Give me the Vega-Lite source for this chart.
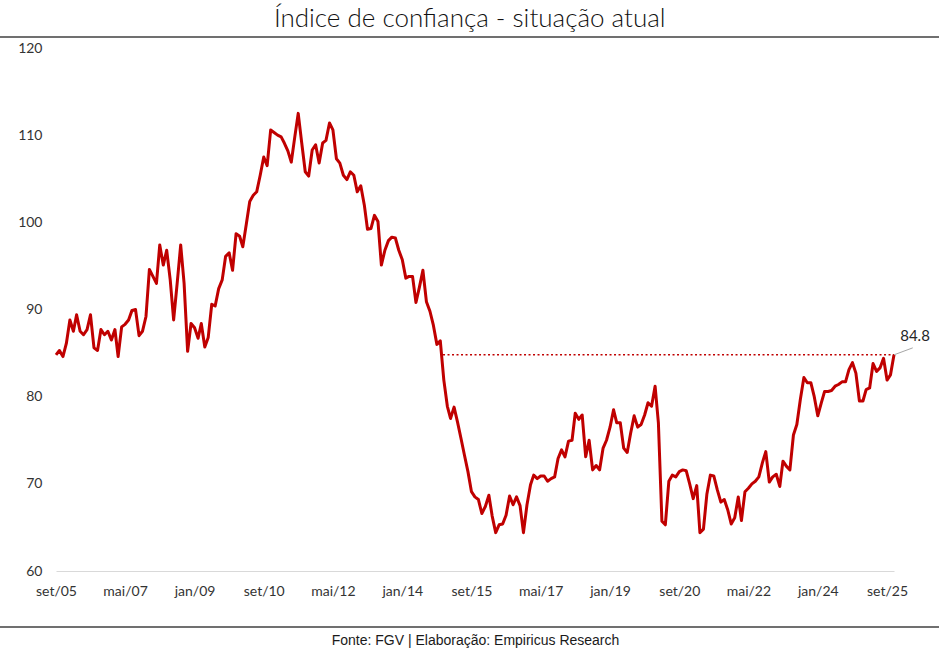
{
  "$schema": "https://vega.github.io/schema/vega-lite/v6.json",
  "width": 838,
  "height": 523,
  "autosize": {"type": "none"},
  "padding": {"left": 56, "top": 48, "right": 45, "bottom": 81},
  "background": "white",
  "title": {
    "text": "Índice de confiança - situação atual",
    "font": "Lato",
    "fontSize": 26,
    "fontWeight": 300,
    "color": "#111111",
    "anchor": "middle",
    "frame": "bounds",
    "offset": 4
  },
  "config": {
    "view": {"stroke": null},
    "axis": {"labelFont": "Lato", "labelFontSize": 14, "labelColor": "#333333", "grid": false, "ticks": false}
  },
  "data": {"values": [
    {"d": "2005-09-01", "v": 84.8}, {"d": "2005-10-01", "v": 85.3}, {"d": "2005-11-01", "v": 84.6}, {"d": "2005-12-01", "v": 86.1},
    {"d": "2006-01-01", "v": 88.8}, {"d": "2006-02-01", "v": 87.5}, {"d": "2006-03-01", "v": 89.4}, {"d": "2006-04-01", "v": 87.5}, {"d": "2006-05-01", "v": 87.1}, {"d": "2006-06-01", "v": 87.7}, {"d": "2006-07-01", "v": 89.4}, {"d": "2006-08-01", "v": 85.6}, {"d": "2006-09-01", "v": 85.3}, {"d": "2006-10-01", "v": 87.7}, {"d": "2006-11-01", "v": 87.1}, {"d": "2006-12-01", "v": 87.5},
    {"d": "2007-01-01", "v": 86.5}, {"d": "2007-02-01", "v": 87.7}, {"d": "2007-03-01", "v": 84.6}, {"d": "2007-04-01", "v": 88.0}, {"d": "2007-05-01", "v": 88.3}, {"d": "2007-06-01", "v": 88.8}, {"d": "2007-07-01", "v": 89.9}, {"d": "2007-08-01", "v": 90.0}, {"d": "2007-09-01", "v": 87.0}, {"d": "2007-10-01", "v": 87.5}, {"d": "2007-11-01", "v": 89.2}, {"d": "2007-12-01", "v": 94.6},
    {"d": "2008-01-01", "v": 93.8}, {"d": "2008-02-01", "v": 93.0}, {"d": "2008-03-01", "v": 97.4}, {"d": "2008-04-01", "v": 95.1}, {"d": "2008-05-01", "v": 96.8}, {"d": "2008-06-01", "v": 93.4}, {"d": "2008-07-01", "v": 88.8}, {"d": "2008-08-01", "v": 93.0}, {"d": "2008-09-01", "v": 97.4}, {"d": "2008-10-01", "v": 93.0}, {"d": "2008-11-01", "v": 85.2}, {"d": "2008-12-01", "v": 88.4},
    {"d": "2009-01-01", "v": 87.9}, {"d": "2009-02-01", "v": 86.7}, {"d": "2009-03-01", "v": 88.4}, {"d": "2009-04-01", "v": 85.7}, {"d": "2009-05-01", "v": 86.8}, {"d": "2009-06-01", "v": 90.6}, {"d": "2009-07-01", "v": 90.4}, {"d": "2009-08-01", "v": 92.4}, {"d": "2009-09-01", "v": 93.4}, {"d": "2009-10-01", "v": 96.1}, {"d": "2009-11-01", "v": 96.5}, {"d": "2009-12-01", "v": 94.5},
    {"d": "2010-01-01", "v": 98.7}, {"d": "2010-02-01", "v": 98.4}, {"d": "2010-03-01", "v": 97.2}, {"d": "2010-04-01", "v": 99.8}, {"d": "2010-05-01", "v": 102.4}, {"d": "2010-06-01", "v": 103.1}, {"d": "2010-07-01", "v": 103.5}, {"d": "2010-08-01", "v": 105.4}, {"d": "2010-09-01", "v": 107.5}, {"d": "2010-10-01", "v": 106.5}, {"d": "2010-11-01", "v": 110.6}, {"d": "2010-12-01", "v": 110.3},
    {"d": "2011-01-01", "v": 110.0}, {"d": "2011-02-01", "v": 109.8}, {"d": "2011-03-01", "v": 109.1}, {"d": "2011-04-01", "v": 108.2}, {"d": "2011-05-01", "v": 106.9}, {"d": "2011-06-01", "v": 109.8}, {"d": "2011-07-01", "v": 112.5}, {"d": "2011-08-01", "v": 109.1}, {"d": "2011-09-01", "v": 105.8}, {"d": "2011-10-01", "v": 105.3}, {"d": "2011-11-01", "v": 108.3}, {"d": "2011-12-01", "v": 108.9},
    {"d": "2012-01-01", "v": 106.8}, {"d": "2012-02-01", "v": 109.1}, {"d": "2012-03-01", "v": 109.4}, {"d": "2012-04-01", "v": 111.4}, {"d": "2012-05-01", "v": 110.6}, {"d": "2012-06-01", "v": 107.3}, {"d": "2012-07-01", "v": 106.8}, {"d": "2012-08-01", "v": 105.4}, {"d": "2012-09-01", "v": 104.9}, {"d": "2012-10-01", "v": 105.8}, {"d": "2012-11-01", "v": 105.4}, {"d": "2012-12-01", "v": 103.5},
    {"d": "2013-01-01", "v": 104.2}, {"d": "2013-02-01", "v": 102.0}, {"d": "2013-03-01", "v": 99.2}, {"d": "2013-04-01", "v": 99.3}, {"d": "2013-05-01", "v": 100.8}, {"d": "2013-06-01", "v": 100.1}, {"d": "2013-07-01", "v": 95.1}, {"d": "2013-08-01", "v": 96.8}, {"d": "2013-09-01", "v": 97.9}, {"d": "2013-10-01", "v": 98.3}, {"d": "2013-11-01", "v": 98.2}, {"d": "2013-12-01", "v": 96.8},
    {"d": "2014-01-01", "v": 95.7}, {"d": "2014-02-01", "v": 93.6}, {"d": "2014-03-01", "v": 93.8}, {"d": "2014-04-01", "v": 93.8}, {"d": "2014-05-01", "v": 90.8}, {"d": "2014-06-01", "v": 92.6}, {"d": "2014-07-01", "v": 94.5}, {"d": "2014-08-01", "v": 90.9}, {"d": "2014-09-01", "v": 89.8}, {"d": "2014-10-01", "v": 88.2}, {"d": "2014-11-01", "v": 86.0}, {"d": "2014-12-01", "v": 86.4},
    {"d": "2015-01-01", "v": 81.9}, {"d": "2015-02-01", "v": 78.9}, {"d": "2015-03-01", "v": 77.5}, {"d": "2015-04-01", "v": 78.8}, {"d": "2015-05-01", "v": 77.1}, {"d": "2015-06-01", "v": 75.2}, {"d": "2015-07-01", "v": 73.3}, {"d": "2015-08-01", "v": 71.4}, {"d": "2015-09-01", "v": 69.1}, {"d": "2015-10-01", "v": 68.5}, {"d": "2015-11-01", "v": 68.2}, {"d": "2015-12-01", "v": 66.6},
    {"d": "2016-01-01", "v": 67.4}, {"d": "2016-02-01", "v": 68.7}, {"d": "2016-03-01", "v": 66.3}, {"d": "2016-04-01", "v": 64.4}, {"d": "2016-05-01", "v": 65.3}, {"d": "2016-06-01", "v": 65.4}, {"d": "2016-07-01", "v": 66.4}, {"d": "2016-08-01", "v": 68.6}, {"d": "2016-09-01", "v": 67.6}, {"d": "2016-10-01", "v": 68.5}, {"d": "2016-11-01", "v": 67.5}, {"d": "2016-12-01", "v": 64.4},
    {"d": "2017-01-01", "v": 67.6}, {"d": "2017-02-01", "v": 69.9}, {"d": "2017-03-01", "v": 71.0}, {"d": "2017-04-01", "v": 70.6}, {"d": "2017-05-01", "v": 70.9}, {"d": "2017-06-01", "v": 70.9}, {"d": "2017-07-01", "v": 70.3}, {"d": "2017-08-01", "v": 70.6}, {"d": "2017-09-01", "v": 70.8}, {"d": "2017-10-01", "v": 72.9}, {"d": "2017-11-01", "v": 73.9}, {"d": "2017-12-01", "v": 73.1},
    {"d": "2018-01-01", "v": 74.9}, {"d": "2018-02-01", "v": 75.0}, {"d": "2018-03-01", "v": 78.1}, {"d": "2018-04-01", "v": 77.4}, {"d": "2018-05-01", "v": 77.9}, {"d": "2018-06-01", "v": 73.1}, {"d": "2018-07-01", "v": 75.0}, {"d": "2018-08-01", "v": 71.6}, {"d": "2018-09-01", "v": 72.1}, {"d": "2018-10-01", "v": 71.6}, {"d": "2018-11-01", "v": 74.1}, {"d": "2018-12-01", "v": 75.0},
    {"d": "2019-01-01", "v": 76.5}, {"d": "2019-02-01", "v": 78.5}, {"d": "2019-03-01", "v": 77.0}, {"d": "2019-04-01", "v": 77.0}, {"d": "2019-05-01", "v": 74.1}, {"d": "2019-06-01", "v": 73.6}, {"d": "2019-07-01", "v": 75.8}, {"d": "2019-08-01", "v": 77.8}, {"d": "2019-09-01", "v": 76.5}, {"d": "2019-10-01", "v": 76.8}, {"d": "2019-11-01", "v": 77.9}, {"d": "2019-12-01", "v": 79.3},
    {"d": "2020-01-01", "v": 78.9}, {"d": "2020-02-01", "v": 81.2}, {"d": "2020-03-01", "v": 77.0}, {"d": "2020-04-01", "v": 65.7}, {"d": "2020-05-01", "v": 65.3}, {"d": "2020-06-01", "v": 70.3}, {"d": "2020-07-01", "v": 71.0}, {"d": "2020-08-01", "v": 70.8}, {"d": "2020-09-01", "v": 71.4}, {"d": "2020-10-01", "v": 71.6}, {"d": "2020-11-01", "v": 71.5}, {"d": "2020-12-01", "v": 70.0},
    {"d": "2021-01-01", "v": 68.3}, {"d": "2021-02-01", "v": 69.8}, {"d": "2021-03-01", "v": 64.4}, {"d": "2021-04-01", "v": 64.8}, {"d": "2021-05-01", "v": 68.8}, {"d": "2021-06-01", "v": 71.0}, {"d": "2021-07-01", "v": 70.9}, {"d": "2021-08-01", "v": 69.3}, {"d": "2021-09-01", "v": 67.9}, {"d": "2021-10-01", "v": 68.2}, {"d": "2021-11-01", "v": 67.0}, {"d": "2021-12-01", "v": 65.4},
    {"d": "2022-01-01", "v": 66.1}, {"d": "2022-02-01", "v": 68.5}, {"d": "2022-03-01", "v": 65.8}, {"d": "2022-04-01", "v": 69.1}, {"d": "2022-05-01", "v": 69.5}, {"d": "2022-06-01", "v": 70.0}, {"d": "2022-07-01", "v": 70.3}, {"d": "2022-08-01", "v": 70.8}, {"d": "2022-09-01", "v": 72.4}, {"d": "2022-10-01", "v": 73.7}, {"d": "2022-11-01", "v": 70.2}, {"d": "2022-12-01", "v": 70.8},
    {"d": "2023-01-01", "v": 71.1}, {"d": "2023-02-01", "v": 69.7}, {"d": "2023-03-01", "v": 72.6}, {"d": "2023-04-01", "v": 72.0}, {"d": "2023-05-01", "v": 71.6}, {"d": "2023-06-01", "v": 75.6}, {"d": "2023-07-01", "v": 76.8}, {"d": "2023-08-01", "v": 79.7}, {"d": "2023-09-01", "v": 82.2}, {"d": "2023-10-01", "v": 81.6}, {"d": "2023-11-01", "v": 81.6}, {"d": "2023-12-01", "v": 80.0},
    {"d": "2024-01-01", "v": 77.8}, {"d": "2024-02-01", "v": 79.3}, {"d": "2024-03-01", "v": 80.6}, {"d": "2024-04-01", "v": 80.6}, {"d": "2024-05-01", "v": 80.7}, {"d": "2024-06-01", "v": 81.2}, {"d": "2024-07-01", "v": 81.4}, {"d": "2024-08-01", "v": 81.7}, {"d": "2024-09-01", "v": 81.7}, {"d": "2024-10-01", "v": 83.1}, {"d": "2024-11-01", "v": 83.9}, {"d": "2024-12-01", "v": 82.7},
    {"d": "2025-01-01", "v": 79.5}, {"d": "2025-02-01", "v": 79.5}, {"d": "2025-03-01", "v": 80.8}, {"d": "2025-04-01", "v": 81.0}, {"d": "2025-05-01", "v": 83.8}, {"d": "2025-06-01", "v": 82.9}, {"d": "2025-07-01", "v": 83.3}, {"d": "2025-08-01", "v": 84.4}, {"d": "2025-09-01", "v": 81.9}, {"d": "2025-10-01", "v": 82.5}, {"d": "2025-11-01", "v": 84.8}
  ]},
  "layer": [
    {
      "data": {"values": [{}]},
      "mark": {"type": "rule", "color": "#404040", "strokeWidth": 1.5, "clip": false},
      "encoding": {
        "x": {"datum": {"year": 2004, "month": 2, "date": 1, "utc": true}, "type": "temporal"},
        "x2": {"datum": {"year": 2027, "month": 3, "date": 1, "utc": true}},
        "y": {"datum": 121.26, "type": "quantitative"}
      }
    },
    {
      "data": {"values": [{}]},
      "mark": {"type": "rule", "color": "#404040", "strokeWidth": 1.5, "clip": false},
      "encoding": {
        "x": {"datum": {"year": 2004, "month": 2, "date": 1, "utc": true}, "type": "temporal"},
        "x2": {"datum": {"year": 2027, "month": 3, "date": 1, "utc": true}},
        "y": {"datum": 53.58, "type": "quantitative"}
      }
    },
    {
      "data": {"values": [{}]},
      "mark": {"type": "rule", "color": "#c00000", "strokeWidth": 1.5, "strokeDash": [2, 2.5], "clip": false},
      "encoding": {
        "x": {"datum": {"year": 2014, "month": 12, "date": 25, "utc": true}, "type": "temporal"},
        "x2": {"datum": {"year": 2025, "month": 11, "date": 1, "utc": true}},
        "y": {"datum": 84.8, "type": "quantitative"}
      }
    },
    {
      "mark": {"type": "line", "color": "#c00000", "strokeWidth": 3, "strokeJoin": "round", "clip": false},
      "encoding": {
        "x": {
          "field": "d",
          "type": "temporal",
          "scale": {"type": "utc", "domain": [{"year": 2005, "month": 9, "date": 1, "utc": true}, {"year": 2025, "month": 11, "date": 1, "utc": true}]},
          "axis": {
            "values": [
              {"year": 2005, "month": 9, "date": 1, "utc": true},
              {"year": 2007, "month": 5, "date": 1, "utc": true},
              {"year": 2009, "month": 1, "date": 1, "utc": true},
              {"year": 2010, "month": 9, "date": 1, "utc": true},
              {"year": 2012, "month": 5, "date": 1, "utc": true},
              {"year": 2014, "month": 1, "date": 1, "utc": true},
              {"year": 2015, "month": 9, "date": 1, "utc": true},
              {"year": 2017, "month": 5, "date": 1, "utc": true},
              {"year": 2019, "month": 1, "date": 1, "utc": true},
              {"year": 2020, "month": 9, "date": 1, "utc": true},
              {"year": 2022, "month": 5, "date": 1, "utc": true},
              {"year": 2024, "month": 1, "date": 1, "utc": true},
              {"year": 2025, "month": 9, "date": 1, "utc": true}
            ],
            "labelExpr": "['jan','fev','mar','abr','mai','jun','jul','ago','set','out','nov','dez'][utcmonth(datum.value)] + '/' + utcFormat(datum.value, '%y')",
            "labelOverlap": false,
            "labelFlush": false,
            "labelPadding": 13,
            "domain": true,
            "domainColor": "#d9d9d9",
            "domainWidth": 1,
            "title": "Fonte: FGV | Elaboração: Empiricus Research",
            "titleFont": "Liberation Sans",
            "titleFontSize": 14,
            "titleFontWeight": "normal",
            "titleColor": "#1a1a1a",
            "titlePadding": 35
          }
        },
        "y": {
          "field": "v",
          "type": "quantitative",
          "scale": {"domain": [60, 120], "nice": false, "zero": false},
          "axis": {"values": [60, 70, 80, 90, 100, 110, 120], "domain": false, "labelPadding": 14, "title": null}
        }
      }
    },
    {
      "transform": [{"filter": "time(datum.d) == utc(2025, 10, 1)"}],
      "mark": {"type": "rule", "color": "#a6a6a6", "strokeWidth": 1, "clip": false},
      "encoding": {
        "x": {"field": "d", "type": "temporal"},
        "x2": {"datum": {"year": 2026, "month": 4, "date": 15, "utc": true}},
        "y": {"field": "v", "type": "quantitative"},
        "y2": {"datum": 85.6}
      }
    },
    {
      "transform": [{"filter": "time(datum.d) == utc(2025, 10, 1)"}],
      "mark": {"type": "text", "font": "Lato", "fontSize": 15, "color": "#262626", "dx": 21, "dy": -19, "align": "center", "baseline": "middle", "clip": false},
      "encoding": {
        "x": {"field": "d", "type": "temporal"},
        "y": {"field": "v", "type": "quantitative"},
        "text": {"field": "v", "type": "quantitative", "format": ".1f"}
      }
    }
  ]
}
